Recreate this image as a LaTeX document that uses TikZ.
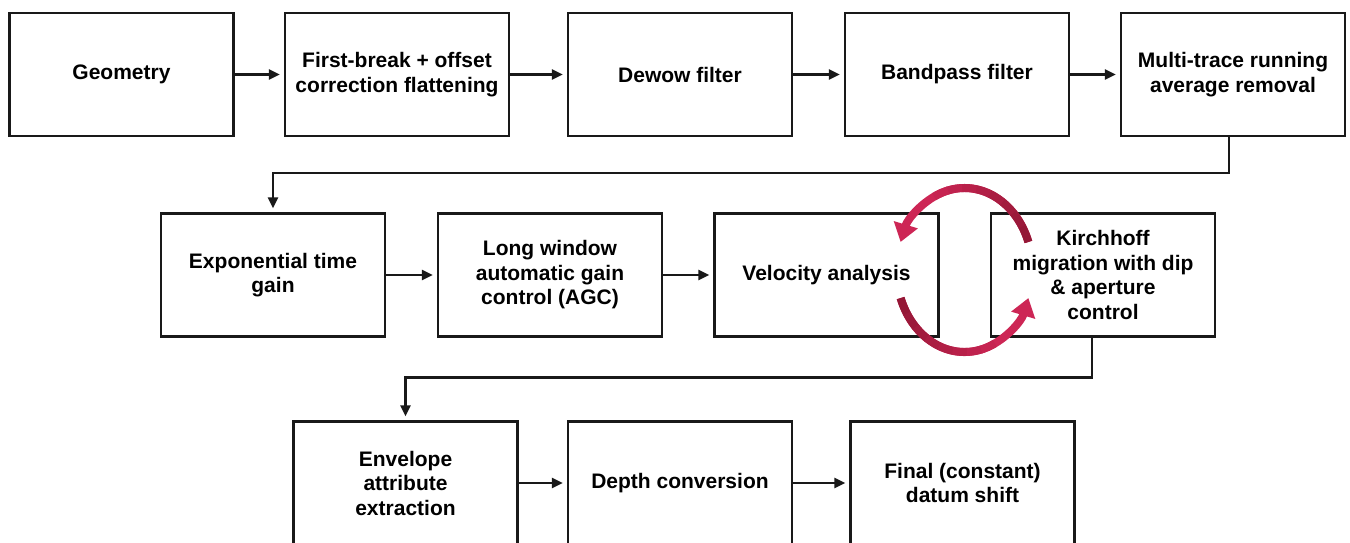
\documentclass[tikz,border=0pt]{standalone}
\usepackage{fontspec}
\setmainfont{Liberation Sans}
\usetikzlibrary{arrows.meta}
\definecolor{loopred}{RGB}{205,38,85}
\definecolor{loopdark}{RGB}{145,22,52}
\definecolor{boxline}{RGB}{25,25,25}
\begin{document}
\begin{tikzpicture}[x=1pt,y=-1pt,
  stepbox/.style={draw=boxline, line width=2.2pt, minimum width=224pt, minimum height=123pt,
    inner sep=0pt, align=center, fill=white,
    font=\fontsize{21}{24.5}\selectfont\bfseries},
  arr/.style={line width=2.4pt, boxline, -{Triangle[length=11pt,width=10pt]}, shorten >=4pt},
  cyc/.style={line width=8pt, loopred, -{Triangle[length=18pt,width=24pt]}}]
\useasboundingbox (0,0) rectangle (1350,542);
\clip (0,0) rectangle (1350,542);
% row 1
\node[stepbox] (geo)   at (121.5,74.5) {Geometry};
\node[stepbox] (fb)    at (397,74.5)   {First-break + offset\\correction flattening};
\node[stepbox] (dewow) at (680,74.5)   {Dewow filter};
\node[stepbox] (band)  at (957,74.5)   {Bandpass filter};
\node[stepbox] (multi) at (1233,74.5)  {Multi-trace running\\average removal};
% row 2
\node[stepbox] (expg)  at (273,275)    {Exponential time\\gain};
\node[stepbox] (agc)   at (550,275)    {Long window\\automatic gain\\control (AGC)};
\node[stepbox] (vel)   at (826.5,275)  {Velocity analysis};
\node[stepbox] (kirch) at (1103,275)   {Kirchhoff\\migration with dip\\\& aperture\\control};
% row 3
\node[stepbox] (env)   at (405.5,483)  {Envelope\\attribute\\extraction};
\node[stepbox] (depth) at (680,483)    {Depth conversion};
\node[stepbox] (datum) at (962.5,483)  {Final (constant)\\datum shift};
% connectors
\draw[arr] (geo) -- (fb);
\draw[arr] (fb) -- (dewow);
\draw[arr] (dewow) -- (band);
\draw[arr] (band) -- (multi);
\draw[arr] ([xshift=-4pt]multi.south) -- ++(0,36) -| (expg.north);
\draw[arr] (expg) -- (agc);
\draw[arr] (agc) -- (vel);
\draw[arr] ([xshift=-11pt]kirch.south) -- ++(0,40) -| (env.north);
\draw[arr] (env) -- (depth);
\draw[arr] (depth) -- (datum);
% iteration loop
\coordinate (cc) at (964.5,270);
\draw[cyc] ([shift={(-20:68 and 82)}]cc) arc[start angle=-20, end angle=-160, x radius=68, y radius=82];
\draw[cyc] ([shift={(160:68 and 82)}]cc) arc[start angle=160, end angle=20, x radius=68, y radius=82];
% darker shading along the arcs
\foreach \i in {0,...,7} {
  \pgfmathsetmacro\a{-20-12*\i}
  \pgfmathsetmacro\b{\a-12.5}
  \pgfmathtruncatemacro\p{95-12*\i}
  \draw[line width=8pt, loopdark!\p!loopred] ([shift={(\a:68 and 82)}]cc) arc[start angle=\a, end angle=\b, x radius=68, y radius=82];
  \pgfmathsetmacro\c{160-12*\i}
  \pgfmathsetmacro\d{\c-12.5}
  \draw[line width=8pt, loopdark!\p!loopred] ([shift={(\c:68 and 82)}]cc) arc[start angle=\c, end angle=\d, x radius=68, y radius=82];
}
\end{tikzpicture}
\end{document}
